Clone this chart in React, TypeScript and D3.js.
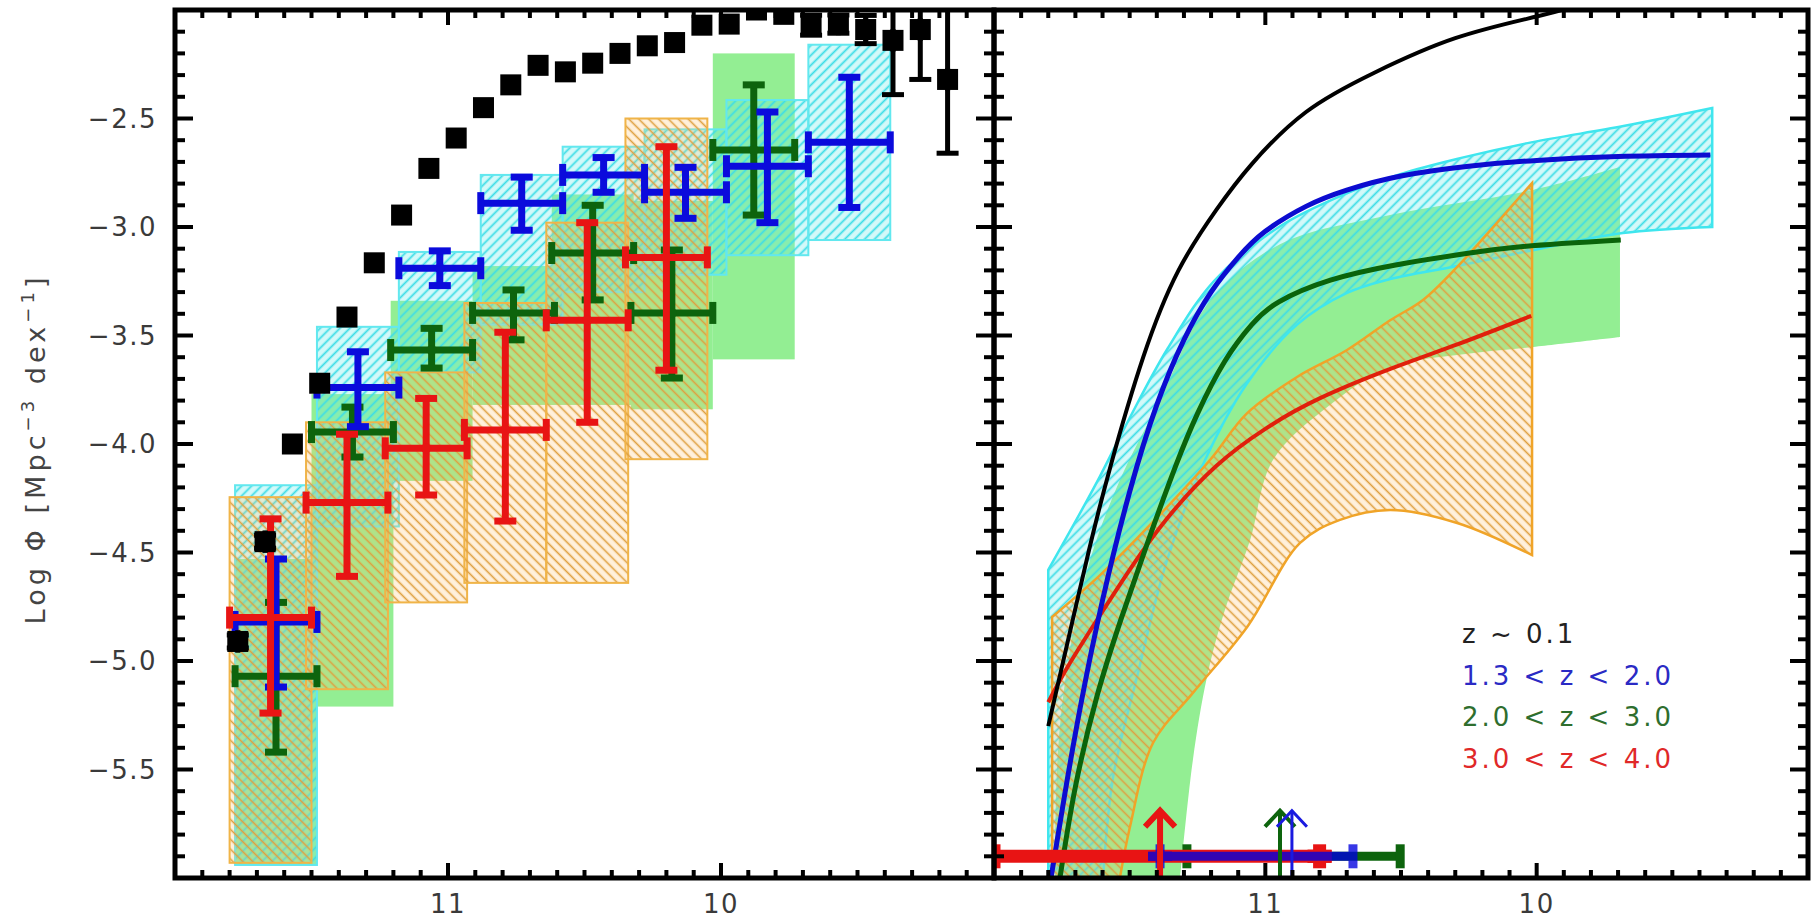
import React from 'react';
import * as d3 from 'd3';

const W = 1813;
const H = 920;

// ---------- left panel: z~0.1 local mass function (black squares) ----------
const localMass = [11.77, 11.67, 11.57, 11.47, 11.37, 11.27, 11.17, 11.07, 10.97, 10.87, 10.77, 10.67, 10.57, 10.47,
  10.37, 10.27, 10.17, 10.07, 9.97, 9.87, 9.77, 9.67, 9.57, 9.47, 9.37, 9.27, 9.17];
const localPhi = [-4.91, -4.45, -4.0, -3.72, -3.415, -3.165, -2.945, -2.73, -2.59, -2.45, -2.345, -2.255, -2.285, -2.245,
  -2.2, -2.165, -2.15, -2.07, -2.065, -2.0, -2.02, -2.07, -2.065, -2.09, -2.14, -2.09, -2.32];
const localErr = [0.03, 0.03, 0, 0, 0, 0, 0, 0, 0, 0, 0, 0, 0, 0, 0, 0, 0, 0, 0, 0, 0, 0.046, 0.042, 0.065, 0.25, 0.23, 0.34];

// ---------- left panel: 1.3 < z < 2.0 (blue) ----------
const blueMass = [11.63, 11.33, 11.03, 10.73, 10.43, 10.13, 9.83, 9.53];
const bluePhi = [-4.82, -3.74, -3.19, -2.89, -2.76, -2.84, -2.72, -2.61];
const blueErrHi = [0.29, 0.165, 0.08, 0.12, 0.08, 0.115, 0.25, 0.3];
const blueErrLo = [0.3, 0.18, 0.08, 0.125, 0.08, 0.12, 0.26, 0.3];
const blueBoxTop = [-4.19, -3.46, -3.115, -2.76, -2.63, -2.55, -2.415, -2.16];
const blueBoxBot = [-5.94, -4.38, -3.67, -3.45, -3.3, -3.22, -3.13, -3.06];

// ---------- left panel: 2.0 < z < 3.0 (green) ----------
const greenMass = [11.63, 11.35, 11.06, 10.76, 10.47, 10.18, 9.88];
const greenPhi = [-5.07, -3.945, -3.567, -3.396, -3.12, -3.396, -2.645];
const greenErrHi = [0.34, 0.115, 0.1, 0.106, 0.22, 0.29, 0.3];
const greenErrLo = [0.35, 0.115, 0.083, 0.124, 0.216, 0.3, 0.3];
const greenBoxTop = [-4.53, -3.77, -3.34, -3.18, -2.85, -2.88, -2.2];
const greenBoxBot = [-5.94, -5.21, -4.17, -3.82, -3.82, -3.84, -3.61];

// ---------- left panel: 3.0 < z < 4.0 (red) ----------
const redMass = [11.65, 11.37, 11.08, 10.79, 10.49, 10.2];
const redPhi = [-4.8, -4.27, -4.02, -3.935, -3.43, -3.14];
const redErrHi = [0.455, 0.315, 0.23, 0.45, 0.45, 0.51];
const redErrLo = [0.44, 0.34, 0.215, 0.42, 0.47, 0.52];
const redBoxTop = [-4.245, -3.9, -3.67, -3.35, -2.98, -2.5];
const redBoxBot = [-5.93, -5.13, -4.73, -4.64, -4.64, -4.07];

const binHalf = 0.15;

// ---------- right panel: fitted curves ----------
const fitLocalX = [11.8, 11.73, 11.65, 11.57, 11.45, 11.32, 11.18, 11.05, 10.85, 10.6, 10.3, 10.0, 9.85];
const fitLocalY = [-5.3, -4.92, -4.49, -4.1, -3.6, -3.2, -2.92, -2.71, -2.47, -2.29, -2.13, -2.03, -1.98];

const fitBlueX = [11.79, 11.74, 11.68, 11.6, 11.5, 11.4, 11.3, 11.2, 11.1, 11.0, 10.85, 10.7, 10.5, 10.25, 10.0, 9.7, 9.36];
const fitBlueY = [-6.0, -5.62, -5.2, -4.72, -4.22, -3.82, -3.52, -3.3, -3.14, -3.02, -2.905, -2.83, -2.765, -2.72, -2.693, -2.675, -2.668];

const fitGreenX = [11.757, 11.7, 11.62, 11.53, 11.43, 11.33, 11.25, 11.15, 11.05, 10.95, 10.76, 10.52, 10.29, 10.05, 9.69];
const fitGreenY = [-6.0, -5.58, -5.16, -4.8, -4.44, -4.1, -3.86, -3.62, -3.45, -3.345, -3.245, -3.175, -3.128, -3.09, -3.06];

const fitRedX = [11.8, 11.73, 11.62, 11.5, 11.36, 11.18, 11.0, 10.8, 10.52, 10.29, 10.02];
const fitRedY = [-5.19, -5.03, -4.81, -4.58, -4.34, -4.1, -3.93, -3.79, -3.645, -3.54, -3.41];

// ---------- right panel: uncertainty bands ----------
const bandBlueUpX = [11.8, 11.71, 11.61, 11.5, 11.36, 11.19, 10.95, 10.7, 10.5, 10.29, 10.02, 9.68, 9.353];
const bandBlueUpY = [-4.58, -4.38, -4.15, -3.88, -3.56, -3.25, -3.0, -2.845, -2.755, -2.685, -2.61, -2.535, -2.452];
const bandBlueLoX = [9.353, 9.682, 9.987, 10.293, 10.54, 10.699, 10.883, 11.067, 11.222, 11.362, 11.473, 11.561, 11.598];
const bandBlueLoY = [-3.0, -3.028, -3.1, -3.18, -3.24, -3.304, -3.45, -3.72, -4.074, -4.535, -5.074, -5.535, -6.0];

const bandGreenUpX = [11.775, 11.764, 11.72, 11.646, 11.536, 11.388, 11.204, 10.946, 10.54, 10.013, 9.693];
const bandGreenUpY = [-6.0, -5.41, -4.95, -4.535, -4.166, -3.797, -3.34, -3.08, -2.945, -2.829, -2.724];
const bandGreenLoX = [9.693, 10.013, 10.293, 10.54, 10.762, 10.972, 11.056, 11.149, 11.215, 11.267, 11.314];
const bandGreenLoY = [-3.507, -3.553, -3.59, -3.645, -3.82, -4.074, -4.442, -4.765, -5.074, -5.456, -6.0];

const bandRedUpX = [11.786, 11.609, 11.425, 11.204, 11.067, 10.883, 10.699, 10.54, 10.419, 10.293, 10.153, 10.017];
const bandRedUpY = [-4.797, -4.604, -4.373, -4.074, -3.858, -3.691, -3.567, -3.43, -3.336, -3.184, -2.99, -2.797];
const bandRedLoX = [10.017, 10.293, 10.54, 10.725, 10.872, 11.067, 11.267, 11.414, 11.499, 11.536];
const bandRedLoY = [-4.512, -4.364, -4.304, -4.35, -4.456, -4.843, -5.147, -5.378, -5.765, -6.0];

// ---------- right panel: completeness limits ----------
const limitPhi = -5.9;
const limitArrowTop = -5.69;
const redLimit = [12.0, 10.8];
const blueLimit = [11.388, 10.677];
const greenLimit = [11.289, 10.503];
const arrowMass = [11.388, 10.946, 10.902];
const arrowColors = ['#e81414', '#0d640d', '#1a1ae0'];
const arrowWidths = [6, 4, 3];

const legendLabels = ['z ~ 0.1', '1.3 < z < 2.0', '2.0 < z < 3.0', '3.0 < z < 4.0'];
const legendColors = ['#222222', '#2a2ac4', '#2e6e2e', '#e02828'];

const yTickLabels = [-2.5, -3.0, -3.5, -4.0, -4.5, -5.0, -5.5];
const xTickLabels = [11, 10];

const xL = d3.scaleLinear().domain([12, 9]).range([175, 994]);
const xR = d3.scaleLinear().domain([12, 9]).range([994, 1808]);
const y = d3.scaleLinear().domain([-6, -2]).range([878, 10]);

const C_BLUE = '#0b0bdc';
const C_GREEN = '#0d640d';
const C_RED = '#e81414';

const edge = (sx: d3.ScaleLinear<number, number>, xs: number[], ys: number[]) =>
  d3.line<number>().x((_, i) => sx(xs[i])).y((_, i) => y(ys[i])).curve(d3.curveCatmullRom)(xs) as string;

function bandPath(ux: number[], uy: number[], lx: number[], ly: number[], corner?: [number, number]) {
  let p = edge(xR, ux, uy) + edge(xR, lx, ly).replace(/^M/, 'L');
  if (corner) p += `L${xR(corner[0])},${y(corner[1])}`;
  return p + 'Z';
}

function Cross({ cx, cy, x0, x1, yHi, yLo, color, w = 7, cap = 22, dot = 5 }: any) {
  return (
    <g stroke={color} strokeWidth={w} fill={color}>
      <line x1={x0} x2={x1} y1={cy} y2={cy} />
      <line x1={cx} x2={cx} y1={yHi} y2={yLo} />
      <line x1={x0} x2={x0} y1={cy - cap / 2} y2={cy + cap / 2} />
      <line x1={x1} x2={x1} y1={cy - cap / 2} y2={cy + cap / 2} />
      <line x1={cx - cap / 2} x2={cx + cap / 2} y1={yHi} y2={yHi} />
      <line x1={cx - cap / 2} x2={cx + cap / 2} y1={yLo} y2={yLo} />
      {dot > 0 && <circle cx={cx} cy={cy} r={dot} stroke="none" />}
    </g>
  );
}

function Frame({ sx }: { sx: d3.ScaleLinear<number, number> }) {
  const [x0, x1] = sx.range();
  const yT = y.range()[1];
  const yB = y.range()[0];
  const xt = d3.range(90, 121).map((v) => v / 10);
  const yt = d3.range(-60, -19).map((v) => v / 10);
  return (
    <g stroke="#000" strokeWidth={4}>
      {xt.map((v) => {
        const major = Math.abs(v - Math.round(v)) < 1e-6;
        const len = major ? 15 : 8;
        const px = sx(v);
        return (
          <g key={'x' + v}>
            <line x1={px} x2={px} y1={yB} y2={yB - len} />
            <line x1={px} x2={px} y1={yT} y2={yT + len} />
          </g>
        );
      })}
      {yt.map((v) => {
        const major = Math.abs(v * 2 - Math.round(v * 2)) < 1e-6;
        const len = major ? 18 : 10;
        const py = y(v);
        return (
          <g key={'y' + v}>
            <line x1={x0} x2={x0 + len} y1={py} y2={py} />
            <line x1={x1} x2={x1 - len} y1={py} y2={py} />
          </g>
        );
      })}
      <rect x={x0} y={yT} width={x1 - x0} height={yB - yT} fill="none" strokeWidth={5} />
    </g>
  );
}

const fmt = (v: number) => (v < 0 ? '\u2212' : '') + Math.abs(v).toFixed(1);

export default function App() {
  // smooth fitted curves
  const line = (xs: number[], ys: number[]) =>
    d3.line<number>().x((_, i) => xR(xs[i])).y((_, i) => y(ys[i])).curve(d3.curveNatural)(xs) as string;

  const boxes = (xs: number[], tops: number[], bots: number[], fill: string, stroke: string | null) =>
    xs.map((m, i) => (
      <rect
        key={i}
        x={xL(m + binHalf)}
        y={y(tops[i])}
        width={xL(m - binHalf) - xL(m + binHalf)}
        height={y(bots[i]) - y(tops[i])}
        fill={fill}
        stroke={stroke ?? 'none'}
        strokeWidth={2}
      />
    ));

  const crosses = (xs: number[], ys: number[], hi: number[], lo: number[], color: string) =>
    xs.map((m, i) => (
      <Cross
        key={i}
        cx={xL(m)}
        cy={y(ys[i])}
        x0={xL(m + binHalf)}
        x1={xL(m - binHalf)}
        yHi={y(ys[i] + hi[i])}
        yLo={y(ys[i] - lo[i])}
        color={color}
      />
    ));

  return (
    <svg
      width={W}
      height={H}
      style={{ position: 'absolute', left: 0, top: 0, background: '#fff' }}
      fontFamily="'DejaVu Sans', sans-serif"
    >
      <defs>
        <clipPath id="clipL">
          <rect x={175} y={10} width={819} height={868} />
        </clipPath>
        <clipPath id="clipR">
          <rect x={994} y={10} width={814} height={868} />
        </clipPath>
        <pattern id="hatchCyan" width={7} height={7} patternUnits="userSpaceOnUse" patternTransform="rotate(45)">
          <rect width={7} height={7} fill="rgba(110,235,235,0.3)" />
          <line x1={3.5} x2={3.5} y1={0} y2={7} stroke="#3ddde6" strokeWidth={1.8} />
        </pattern>
        <pattern id="hatchOrange" width={7} height={7} patternUnits="userSpaceOnUse" patternTransform="rotate(-45)">
          <rect width={7} height={7} fill="rgba(255,195,110,0.25)" />
          <line x1={3.5} x2={3.5} y1={0} y2={7} stroke="#dfa040" strokeWidth={1.6} />
        </pattern>
      </defs>

      {/* ---------- left panel ---------- */}
      <g clipPath="url(#clipL)">
        {boxes(greenMass, greenBoxTop, greenBoxBot, '#93ee93', null)}
        {boxes(blueMass, blueBoxTop, blueBoxBot, 'url(#hatchCyan)', '#62e8ef')}
        {boxes(redMass, redBoxTop, redBoxBot, 'url(#hatchOrange)', '#f0b448')}

        {crosses(greenMass, greenPhi, greenErrHi, greenErrLo, C_GREEN)}
        {crosses(blueMass, bluePhi, blueErrHi, blueErrLo, C_BLUE)}
        {crosses(redMass, redPhi, redErrHi, redErrLo, C_RED)}

        {localMass.map((m, i) => (
          <g key={i}>
            {localErr[i] > 0 && (
              <Cross
                cx={xL(m)}
                cy={y(localPhi[i])}
                x0={xL(m)}
                x1={xL(m)}
                yHi={y(localPhi[i] + localErr[i])}
                yLo={y(localPhi[i] - localErr[i])}
                color="#000"
                w={5}
                cap={22}
                dot={0}
              />
            )}
            <rect x={xL(m) - 10.5} y={y(localPhi[i]) - 10.5} width={21} height={21} fill="#000" />
          </g>
        ))}
      </g>

      {/* ---------- right panel ---------- */}
      <g clipPath="url(#clipR)">
        <path d={bandPath(bandGreenUpX, bandGreenUpY, bandGreenLoX, bandGreenLoY)} fill="#93ee93" />
        <path
          d={bandPath(bandBlueUpX, bandBlueUpY, bandBlueLoX, bandBlueLoY, [11.8, -6.0])}
          fill="url(#hatchCyan)"
          stroke="#3fe6ee"
          strokeWidth={2.5}
        />
        <path
          d={bandPath(bandRedUpX, bandRedUpY, bandRedLoX, bandRedLoY, [11.786, -6.0])}
          fill="url(#hatchOrange)"
          stroke="#f0a428"
          strokeWidth={2.5}
        />

        <path d={line(fitRedX, fitRedY)} fill="none" stroke="#e0200c" strokeWidth={4} />
        <path d={line(fitLocalX, fitLocalY)} fill="none" stroke="#000" strokeWidth={4} />
        <path d={line(fitGreenX, fitGreenY)} fill="none" stroke="#0a640a" strokeWidth={5} />
        <path d={line(fitBlueX, fitBlueY)} fill="none" stroke="#0c0cd0" strokeWidth={5} />

        {/* completeness limits */}
        <Cross
          cx={xR(greenLimit[0])}
          cy={y(limitPhi)}
          x0={xR(greenLimit[0])}
          x1={xR(greenLimit[1])}
          yHi={y(limitPhi)}
          yLo={y(limitPhi)}
          color={C_GREEN}
          w={9}
          cap={24}
          dot={0}
        />
        <Cross
          cx={xR(redLimit[1])}
          cy={y(limitPhi)}
          x0={xR(redLimit[0])}
          x1={xR(redLimit[1])}
          yHi={y(limitPhi)}
          yLo={y(limitPhi)}
          color={C_RED}
          w={13}
          cap={24}
          dot={0}
        />
        <g opacity={0.78}>
          <Cross
            cx={xR(blueLimit[0])}
            cy={y(limitPhi)}
            x0={xR(blueLimit[0])}
            x1={xR(blueLimit[1])}
            yHi={y(limitPhi)}
            yLo={y(limitPhi)}
            color="#0000e0"
            w={9}
            cap={24}
            dot={0}
          />
        </g>
        {arrowMass.map((m, i) => {
          const px = xR(m);
          const top = y(limitArrowTop);
          return (
            <g key={i} stroke={arrowColors[i]} strokeWidth={arrowWidths[i]} fill="none">
              <line x1={px} x2={px} y1={y(-6)} y2={top} />
              <polyline points={`${px - 15},${top + 16} ${px},${top} ${px + 15},${top + 16}`} />
            </g>
          );
        })}
      </g>

      <Frame sx={xL} />
      <Frame sx={xR} />

      {/* tick labels */}
      <g fill="#3a3a3a" fontSize={26} letterSpacing={1.5}>
        {yTickLabels.map((v) => (
          <text key={v} x={157} y={y(v)} dy="0.36em" textAnchor="end">
            {fmt(v)}
          </text>
        ))}
        {[xL, xR].map((sx, k) =>
          xTickLabels.map((v) => (
            <text key={k + '-' + v} x={sx(v)} y={913} textAnchor="middle">
              {v}
            </text>
          ))
        )}
      </g>

      {/* axis title */}
      <text
        transform="translate(45,451) rotate(-90)"
        textAnchor="middle"
        fontSize={27}
        fill="#444"
        textLength={347}
        lengthAdjust="spacing"
      >
        Log Φ [Mpc
        <tspan dy={-11} fontSize={18}>
          −3
        </tspan>
        <tspan dy={11}> dex</tspan>
        <tspan dy={-11} fontSize={18}>
          −1
        </tspan>
        <tspan dy={11}>]</tspan>
      </text>

      {/* legend */}
      <g fontSize={26} letterSpacing={3}>
        {legendLabels.map((t, i) => (
          <text key={t} x={1462} y={643 + i * 41.7} fill={legendColors[i]}>
            {t}
          </text>
        ))}
      </g>
    </svg>
  );
}
